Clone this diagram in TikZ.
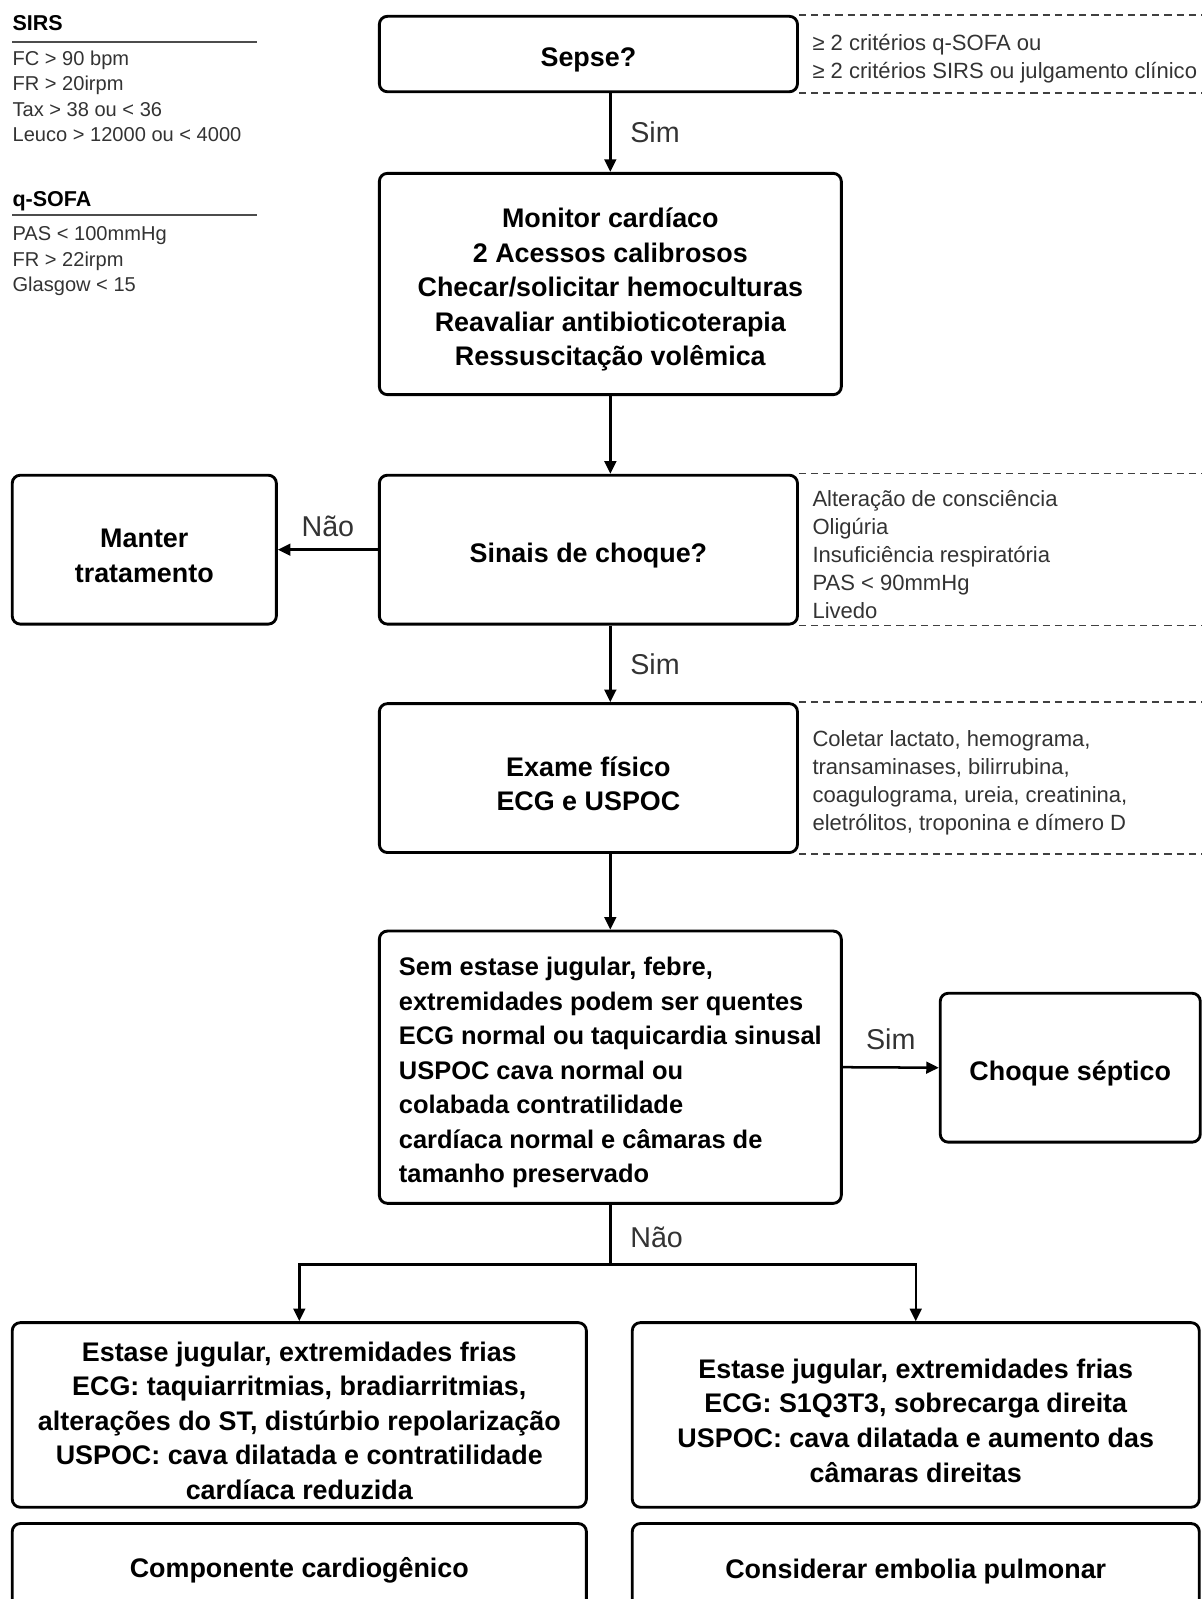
\documentclass[tikz,border=0pt]{standalone}
\usepackage{fontspec}
\setmainfont{Liberation Sans}
\usetikzlibrary{arrows.meta}
\def\flow{\draw[line width=1.4pt,-{Triangle[length=7pt,width=6.5pt]}]}
\def\dnote{\draw[black!75,line width=0.8pt,dash pattern=on 4pt off 2.8pt]}
\def\hrl{\draw[black!70,line width=1pt]}
\def\tstrut{\rule{0pt}{1.15em}}
\tikzset{
  box/.style={draw,line width=1.6pt,rounded corners=4.5pt,align=center,
    font=\fontsize{15}{19.3}\selectfont\bfseries},
  note/.style={anchor=west,inner xsep=0.26cm,align=left,text=black!80,
    font=\fontsize{12.3}{15.6}\selectfont},
  lbl/.style={text=black!80,font=\fontsize{16}{19}\selectfont},
  crit/.style={anchor=north west,inner sep=0pt,align=left,text=black!80,
    font=\fontsize{11.2}{14.2}\selectfont},
  crithead/.style={anchor=base west,inner sep=0pt,font=\fontsize{12}{14}\selectfont\bfseries}
}
\begin{document}
\begin{tikzpicture}
                \useasboundingbox (0,0) rectangle (23.56,-31.36);
                \coordinate (edge) at (23.56,0);
                \node[crithead] (sirs) at (0.24,-0.59) {SIRS};
                \hrl (0.24,-0.82) -- (5.04,-0.82);
                \node[crit] (sirslist) at (0.24,-0.99) {FC > 90 bpm\\FR > 20irpm\\Tax > 38 ou < 36\\Leuco > 12000 ou < 4000};
                \node[crithead] (qsofa) at (0.24,-4.05) {q-SOFA};
                \hrl (0.24,-4.22) -- (5.04,-4.22);
                \node[crit] (qsofalist) at (0.24,-4.44) {PAS < 100mmHg\\FR > 22irpm\\Glasgow < 15};
                \node[box,minimum width=8.2cm,minimum height=1.48cm] (sepse) at (11.54,-1.06) {\tstrut Sepse?};
                \node[box,minimum width=9.06cm,minimum height=4.34cm] (monitor) at (11.97,-5.57) {\tstrut Monitor cardíaco\\2 Acessos calibrosos\\Checar/solicitar hemoculturas\\Reavaliar antibioticoterapia\\Ressuscitação volêmica};
                \node[box,minimum width=8.2cm,minimum height=2.92cm] (sinais) at (11.54,-10.78) {\tstrut Sinais de choque?};
                \node[box,minimum width=5.18cm,minimum height=2.92cm] (manter) at (2.83,-10.78) {\tstrut Manter\\tratamento};
                \node[box,minimum width=8.2cm,minimum height=2.92cm] (exame) at (11.54,-15.26) {\tstrut Exame físico\\ECG e USPOC};
                \node[box,align=left,minimum width=9.06cm,minimum height=5.34cm,font=\fontsize{14.2}{19.3}\selectfont\bfseries] (semestase) at (11.97,-20.93) {\tstrut Sem estase jugular, febre,\\extremidades podem ser quentes\\ECG normal ou taquicardia sinusal\\USPOC cava normal ou\\colabada contratilidade\\cardíaca normal e câmaras de\\tamanho preservado};
                \node[box,minimum width=5.1cm,minimum height=2.92cm] (choque) at (20.99,-20.94) {\tstrut Choque séptico};
                \node[box,minimum width=11.26cm,minimum height=3.62cm] (cardio) at (5.87,-27.75) {\tstrut Estase jugular, extremidades frias\\ECG: taquiarritmias, bradiarritmias,\\alterações do ST, distúrbio repolarização\\USPOC: cava dilatada e contratilidade\\cardíaca reduzida};
                \node[box,minimum width=11.12cm,minimum height=3.62cm] (embolia) at (17.96,-27.75) {\tstrut Estase jugular, extremidades frias\\ECG: S1Q3T3, sobrecarga direita\\USPOC: cava dilatada e aumento das\\câmaras direitas};
                \node[box,minimum width=11.26cm,minimum height=1.64cm] (cardiofim) at (5.87,-30.7) {\tstrut Componente cardiogênico};
                \node[box,minimum width=11.12cm,minimum height=1.64cm] (emboliafim) at (17.96,-30.7) {\tstrut Considerar embolia pulmonar};
                \node[note] (sepsenote) at (sepse.east) {\tstrut ≥ 2 critérios q-SOFA ou\\≥ 2 critérios SIRS ou julgamento clínico};
                \dnote (sepse.north east) -- (sepse.north east -| edge);
                \dnote (sepse.south east) -- (sepse.south east -| edge);
                \node[note] (sinaisnote) at (sinais.east) {\tstrut Alteração de consciência\\Oligúria\\Insuficiência respiratória\\PAS < 90mmHg\\Livedo};
                \dnote (sinais.north east) -- (sinais.north east -| edge);
                \dnote (sinais.south east) -- (sinais.south east -| edge);
                \node[note] (examenote) at (exame.east) {\tstrut Coletar lactato, hemograma,\\transaminases, bilirrubina,\\coagulograma, ureia, creatinina,\\eletrólitos, troponina e dímero D};
                \dnote (exame.north east) -- (exame.north east -| edge);
                \dnote (exame.south east) -- (exame.south east -| edge);
                \flow (sepse.south -| monitor.south) -- node[lbl,right=0.25cm] {Sim} (monitor.north);
                \flow (monitor.south) -- (monitor.south |- sinais.north);
                \flow (sinais.west) -- node[lbl,above=0.12cm] {Não} (manter.east);
                \flow (sinais.south -| monitor.south) -- node[lbl,right=0.25cm] {Sim} (exame.north -| monitor.south);
                \flow (exame.south -| semestase.north) -- (semestase.north);
                \flow (semestase.east) -- node[lbl,above=0.2cm] {Sim} (choque.west);
                \coordinate (split) at (11.97,-24.8);
                \draw[line width=1.4pt] (semestase.south) -- node[lbl,right=0.25cm,yshift=-0.06cm] {Não} (split);
                \flow (split) -| (cardio.north);
                \flow (split) -| (embolia.north);
            \end{tikzpicture}
\end{document}
